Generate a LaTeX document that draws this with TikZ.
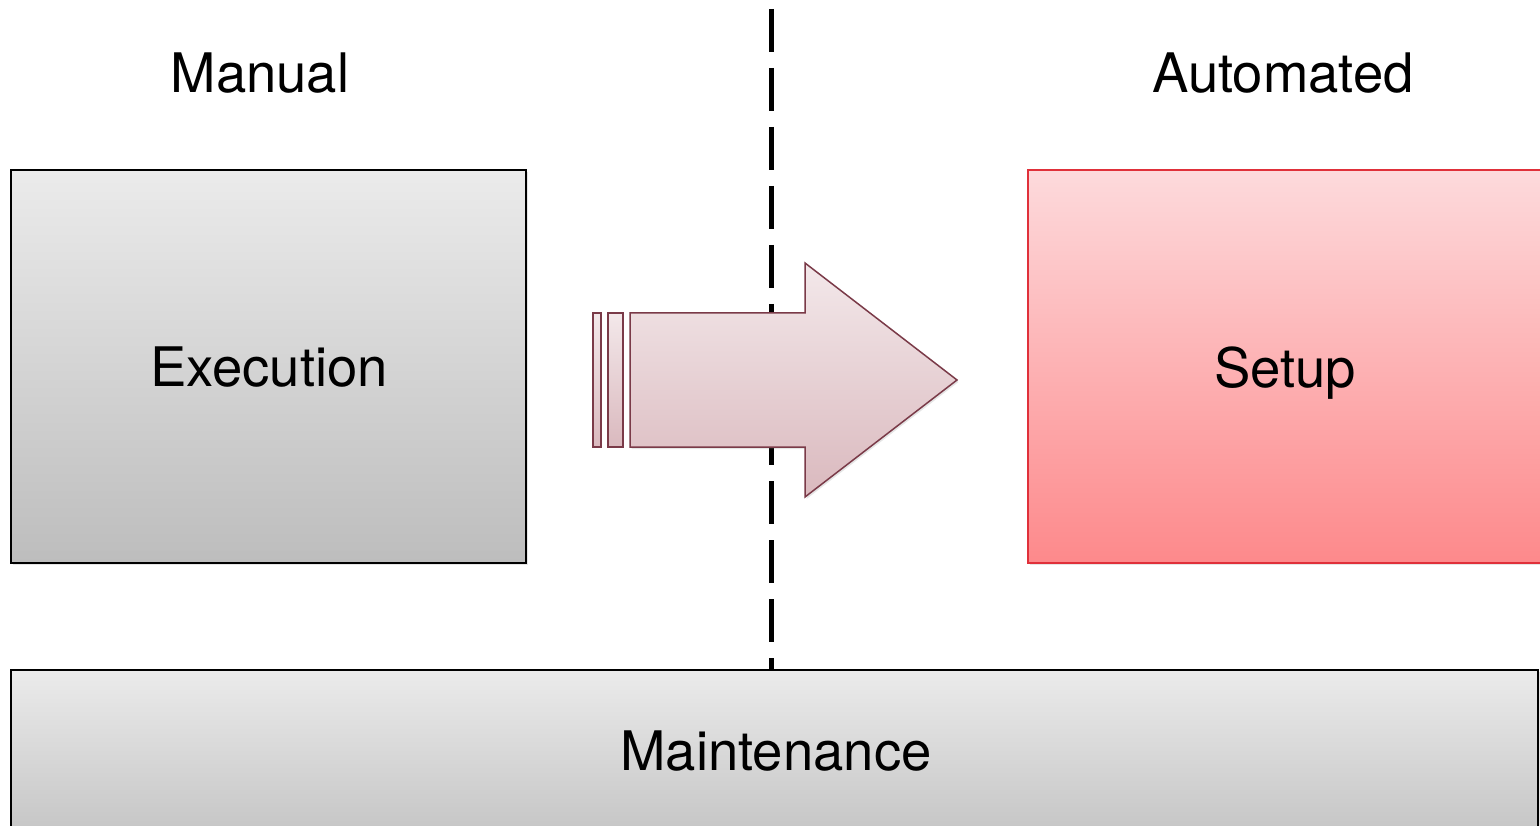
\documentclass[tikz,border=0pt]{standalone}
\usepackage{fontspec}
\setmainfont{TeX Gyre Heros}
\usetikzlibrary{shadows}
\definecolor{gtop}{HTML}{EBEBEB}
\definecolor{gbot}{HTML}{BDBDBD}
\definecolor{rtop}{HTML}{FDDADC}
\definecolor{rbot}{HTML}{FD898B}
\definecolor{redline}{HTML}{E0303A}
\definecolor{atop}{HTML}{F3E8EA}
\definecolor{abot}{HTML}{DAB9BE}
\definecolor{aline}{HTML}{7A3A48}
\tikzset{
  bigtext/.style={font=\fontsize{54.5}{58}\selectfont, inner sep=0pt},
  graybox/.style={draw=black, line width=1.5pt, top color=gtop, bottom color=gbot, inner sep=0pt,
    drop shadow={shadow xshift=1.5pt, shadow yshift=-2pt, opacity=0.2}},
  redbox/.style={draw=redline, line width=1.5pt, top color=rtop, bottom color=rbot, inner sep=0pt,
    drop shadow={shadow xshift=1.5pt, shadow yshift=-2pt, opacity=0.2}},
  arrowpart/.style={draw=aline, line width=1.5pt, top color=atop, bottom color=abot, line join=miter},
  divider/.style={line width=5pt, dash pattern=on 43pt off 16pt}
}
\begin{document}
\begin{tikzpicture}[x=1pt,y=-1pt]
\useasboundingbox (0,0) rectangle (1540,826);
\clip (0,0) rectangle (1540,826);
\fill[white] (0,0) rectangle (1540,826);
% divider
\coordinate (dtop) at (771,9);
\coordinate (dbot) at (771,669);
\draw[divider] (dtop) -- (dbot);
% boxes
\node[graybox, minimum width=515pt, minimum height=393pt] (exec) at (268.5,366.5) {};
\node[bigtext] at (269,367.5) {Execution};
\node[redbox, minimum width=560pt, minimum height=393pt] (setup) at (1308,366.5) {};
\node[bigtext] at (1285,373) {Setup};
\node[graybox, minimum width=1527pt, minimum height=200pt] (maint) at (774.5,770) {};
\node[bigtext] at (776,751) {Maintenance};
% headings
\node[bigtext] (manual) at (260,73) {Manual};
\node[bigtext] (auto) at (1283,73) {Automated};
% arrow
\path[arrowpart, drop shadow={shadow xshift=1.5pt, shadow yshift=-2pt, opacity=0.2}]
  (630,313) -- (805,313) -- (805,263) -- (957,380) -- (805,497) -- (805,447) -- (630,447) -- cycle;
\path[arrowpart] (608,313) rectangle (623,447);
\path[arrowpart] (593,313) rectangle (601,447);
\end{tikzpicture}
\end{document}
